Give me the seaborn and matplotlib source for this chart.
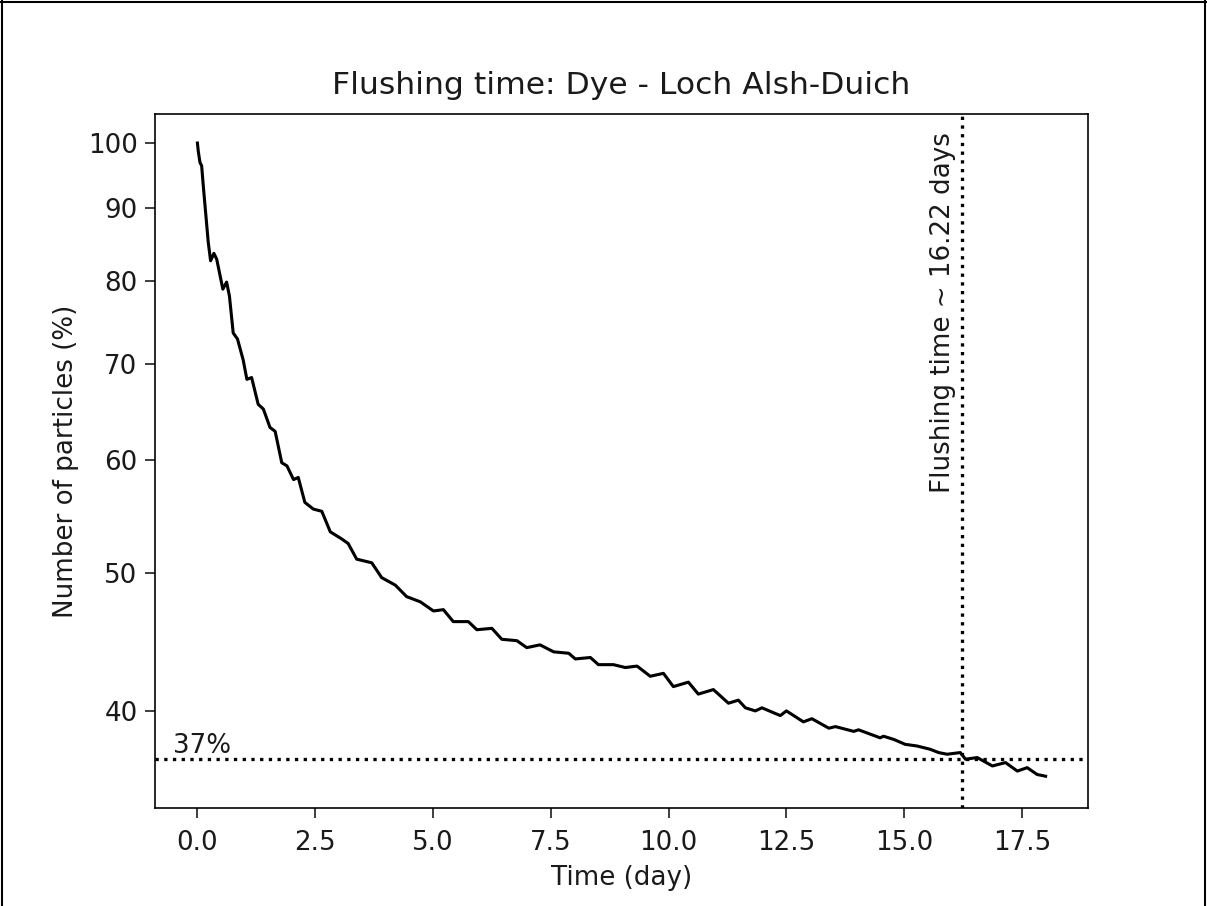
import matplotlib
matplotlib.use("Agg")
import matplotlib.pyplot as plt
from matplotlib.lines import Line2D
from matplotlib.ticker import FixedLocator, FixedFormatter, NullLocator
import seaborn as sns
import pandas as pd

time_day = [0.00, 0.02, 0.055, 0.09, 0.125, 0.23, 0.28, 0.35, 0.41, 0.54, 0.62, 0.68,
            0.76, 0.85, 0.97, 1.05, 1.15, 1.29, 1.40, 1.54, 1.65, 1.79, 1.90, 2.04,
            2.14, 2.28, 2.46, 2.64, 2.82, 3.06, 3.20, 3.38, 3.70, 3.91, 4.20, 4.44,
            4.73, 5.01, 5.22, 5.43, 5.75, 5.93, 6.25, 6.46, 6.78, 6.99, 7.27, 7.56,
            7.88, 8.02, 8.34, 8.51, 8.83, 9.08, 9.33, 9.61, 9.89, 10.10, 10.42, 10.63,
            10.95, 11.27, 11.48, 11.63, 11.84, 11.98, 12.37, 12.50, 12.86, 13.04, 13.40,
            13.54, 13.93, 14.03, 14.49, 14.56, 14.78, 15.02, 15.27, 15.55, 15.73, 15.91,
            16.19, 16.30, 16.55, 16.87, 17.15, 17.40, 17.61, 17.82, 18.00]
particles_pct = [100.0, 98.6, 96.9, 96.4, 93.3, 85.2, 82.7, 83.7, 82.9, 79.0, 79.9, 78.1,
                 73.6, 72.9, 70.5, 68.3, 68.5, 65.6, 65.1, 63.2, 62.8, 59.7, 59.4, 58.1,
                 58.3, 56.0, 55.4, 55.2, 53.4, 52.8, 52.4, 51.1, 50.8, 49.6, 49.0, 48.1,
                 47.7, 47.0, 47.1, 46.2, 46.2, 45.6, 45.7, 44.9, 44.8, 44.3, 44.5, 44.0,
                 43.9, 43.5, 43.6, 43.1, 43.1, 42.9, 43.0, 42.3, 42.5, 41.6, 41.9, 41.1,
                 41.4, 40.5, 40.7, 40.2, 40.0, 40.2, 39.7, 40.0, 39.3, 39.5, 38.9,
                 39.0, 38.7, 38.8, 38.3, 38.4, 38.2, 37.9, 37.8, 37.6, 37.4, 37.3,
                 37.4, 37.0, 37.1, 36.6, 36.8, 36.3, 36.5, 36.1, 36.0]

y_ticks = [40, 50, 60, 70, 80, 90, 100]
y_tick_labels = ["40", "50", "60", "70", "80", "90", "100"]
threshold_pct = 37
flushing_time = 16.22

df = pd.DataFrame({"time": time_day, "pct": particles_pct})

FS = 12.7
plt.rcParams.update({
    "font.size": FS,
    "xtick.labelsize": FS,
    "ytick.labelsize": FS,
    "axes.labelsize": FS,
    "axes.titlesize": FS * 1.2,
    "text.color": "#1a1a1a",
    "xtick.color": "#1a1a1a",
    "ytick.color": "#1a1a1a",
    "axes.labelcolor": "#1a1a1a",
    "xtick.major.size": 5,
    "ytick.major.size": 5,
    "xtick.major.pad": 5.5,
})

DPI = 148
fig = plt.figure(figsize=(1207 / DPI, 906 / DPI), dpi=DPI)
ax = fig.add_axes([155 / 1207, 1 - 808 / 906, (1088 - 155) / 1207, (808 - 114) / 906])

sns.lineplot(data=df, x="time", y="pct", color="black", linewidth=1.5, ax=ax)
ax.set_yscale("log")
ax.set_xlim(-0.9, 18.9)
ax.set_ylim(34.2, 104.8)
ax.yaxis.set_major_locator(FixedLocator(y_ticks))
ax.yaxis.set_major_formatter(FixedFormatter(y_tick_labels))
ax.yaxis.set_minor_locator(NullLocator())

ax.axhline(threshold_pct, color="black", linestyle=":", linewidth=1.6)
ax.axvline(flushing_time, color="black", linestyle=":", linewidth=1.6)
ax.text(-0.52, 37.4, "37%", fontsize=FS)
ax.text(flushing_time - 0.12, 56.9, "Flushing time ~ 16.22 days", rotation=90,
        ha="right", va="bottom", fontsize=FS)

ax.set_title("Flushing time: Dye - Loch Alsh-Duich", pad=9.5)
ax.set_xlabel("Time (day)", labelpad=4.5)
ax.set_ylabel("Number of particles (%)")

for xs, ys in [([0.002, 0.002], [0, 1]), ([0, 1], [0.998, 0.998]), ([0.998, 0.998], [0, 1])]:
    fig.add_artist(Line2D(xs, ys, transform=fig.transFigure, color="black", linewidth=1))

fig.savefig("out.png", dpi=DPI)
